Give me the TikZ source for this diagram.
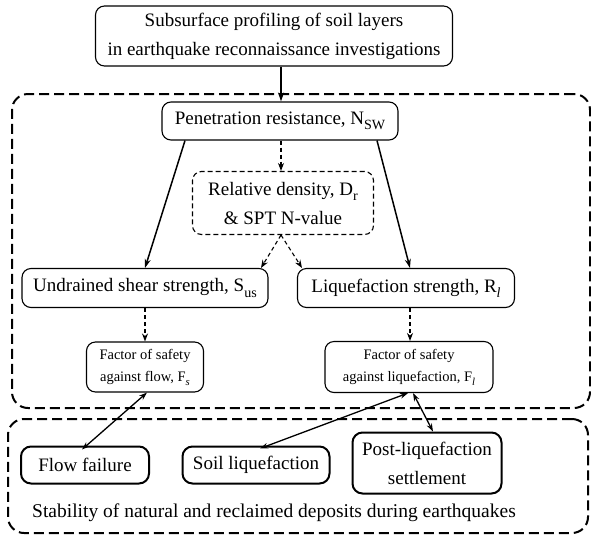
\documentclass[tikz,border=0pt]{standalone}
\usepackage{fontspec}
\setmainfont{Liberation Serif}
\usetikzlibrary{arrows.meta}
% lowered index set in the text face, scaled to the surrounding size
\newcommand{\lowidx}[1]{\raisebox{-0.28em}{\fontsize{0.74em}{1em}\selectfont #1}}
\begin{document}
\begin{tikzpicture}[x=1pt,y=-1pt,
  box/.style={draw, rounded corners=9pt, line width=1.1pt, inner sep=0pt, align=center,
    font=\fontsize{19}{29}\selectfont},
  dbox/.style={box, dashed, dash pattern=on 5pt off 3pt},
  smallbox/.style={box, font=\fontsize{14.5}{22}\selectfont},
  outcome/.style={box, line width=2pt, rounded corners=10pt},
  region/.style={draw, rounded corners=16pt, line width=2pt, dash pattern=on 10pt off 5pt,
    inner sep=0pt},
  solidarrow/.style={line width=1.5pt, -{Stealth[length=9pt,width=6pt]}},
  dasharrow/.style={line width=1.1pt, dash pattern=on 4pt off 3pt, -{Stealth[length=8pt,width=6pt]}},
  twoway/.style={line width=1.3pt, {Stealth[length=8pt,width=5.5pt]}-{Stealth[length=8pt,width=5.5pt]}}
]
\useasboundingbox (0,0) rectangle (591,536);

% dashed regions
\node[region, minimum width=578pt, minimum height=314pt] (upper) at (301,251) {};
\node[region, minimum width=580pt, minimum height=114pt] (lower) at (298,476) {};

% flow of the investigation
\node[box, minimum width=357pt, minimum height=60pt] (survey) at (274,36)
  {Subsurface profiling of soil layers\\in earthquake reconnaissance investigations};
\node[box, minimum width=236pt, minimum height=38pt] (pen) at (280,121)
  {Penetration resistance, N\lowidx{SW}};
\node[dbox, minimum width=181pt, minimum height=63pt] (rel) at (283,203)
  {Relative density, D\lowidx{r}\\\& SPT N-value};
\node[box, minimum width=246pt, minimum height=39pt] (und) at (145,288)
  {Undrained shear strength, S\lowidx{us}};
\node[box, minimum width=217pt, minimum height=39pt] (liq) at (406,288)
  {Liquefaction strength, R\lowidx{\textit{l}}};
\node[smallbox, minimum width=117pt, minimum height=50pt] (fsflow) at (145,367)
  {Factor of safety\\against flow, F\lowidx{\textit{s}}};
\node[smallbox, minimum width=168pt, minimum height=51pt] (fsliq) at (409,367)
  {Factor of safety\\against liquefaction, F\lowidx{\textit{l}}};

% outcomes
\node[outcome, minimum width=128pt, minimum height=37pt] (flow) at (85,465) {Flow failure};
\node[outcome, minimum width=147pt, minimum height=37pt] (soil) at (256,465) {Soil liquefaction};
\node[outcome, minimum width=149pt, minimum height=61pt] (post) at (427,463)
  {Post-liquefaction\\settlement};
\node[font=\fontsize{19.5}{22}\selectfont] (caption) at (274,513)
  {Stability of natural and reclaimed deposits during earthquakes};

% connectors
\draw[solidarrow] ([xshift=7pt]survey.south) -- ([xshift=1pt]pen.north);
\draw[dasharrow] ([xshift=1pt]pen.south) -- ([xshift=-2pt]rel.north);
\draw[solidarrow] ([xshift=-95pt]pen.south) -- (und.north);
\draw[solidarrow] ([xshift=97pt]pen.south) -- ([xshift=4pt]liq.north);
\draw[dasharrow] ([xshift=-2pt]rel.south) -- ([xshift=116pt]und.north);
\draw[dasharrow] ([xshift=-2pt]rel.south) -- ([xshift=-104pt]liq.north);
\draw[dasharrow] (und.south) -- (fsflow.north);
\draw[dasharrow] ([xshift=4pt]liq.south) -- ([xshift=1pt]fsliq.north);
\draw[twoway] ([xshift=2pt]fsflow.south) -- ([xshift=-3pt,yshift=-4pt]flow.north);
\draw[twoway] ([xshift=-1pt]fsliq.south) -- ([xshift=4pt,yshift=-3pt]soil.north);
\draw[twoway] ([xshift=4pt]fsliq.south) -- ([xshift=6pt]post.north);
\end{tikzpicture}
\end{document}
